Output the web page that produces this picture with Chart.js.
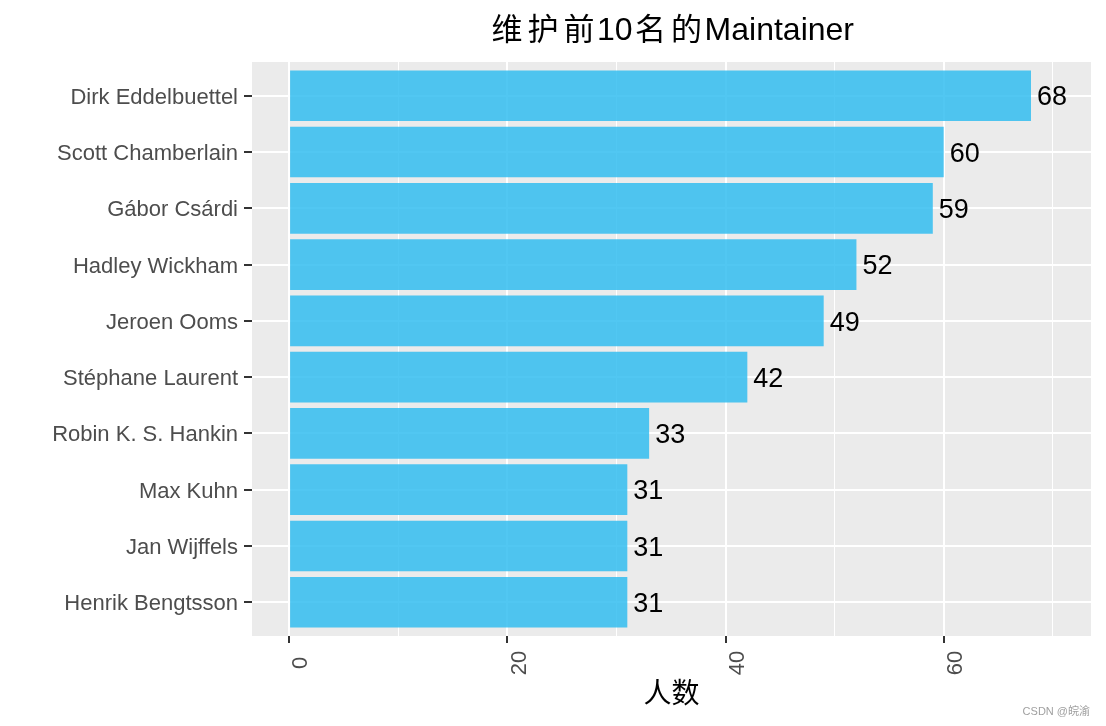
<!DOCTYPE html>
<html>
<head>
<meta charset="utf-8">
<script src="https://cdn.jsdelivr.net/npm/chart.js@4/dist/chart.umd.min.js"></script>
<style>
  html, body { margin: 0; padding: 0; background: #ffffff; }
  #wrap { width: 1106px; height: 726px; position: relative; }
</style>
</head>
<body>
<div id="wrap"><canvas id="c" width="1106" height="726"></canvas></div>
<script>
const names = ['Dirk Eddelbuettel','Scott Chamberlain','Gábor Csárdi','Hadley Wickham','Jeroen Ooms','Stéphane Laurent','Robin K. S. Hankin','Max Kuhn','Jan Wijffels','Henrik Bengtsson'];
const counts = [68, 60, 59, 52, 49, 42, 33, 31, 31, 31];
const xTickValues = [0, 10, 20, 30, 40, 50, 60, 70];
const xTickLabels = ['0', '', '20', '', '40', '', '60', ''];
const titleText = '维护前10名的Maintainer';
const xTitle = '人数';
const watermark = 'CSDN @皖渝';

const FONT = "'Liberation Sans', Arial, 'Noto Sans CJK SC', sans-serif";
const CJK_FONT = "'Noto Sans CJK SC', sans-serif";

const points = counts.map((v, i) => ({ x: v, y: i + 1 }));

const panelBg = {
  id: 'panelBg',
  beforeDraw(chart) {
    const { ctx, chartArea: a } = chart;
    ctx.save();
    ctx.fillStyle = '#ffffff';
    ctx.fillRect(0, 0, chart.width, chart.height);
    ctx.fillStyle = '#EBEBEB';
    ctx.fillRect(a.left, a.top, a.right - a.left, a.bottom - a.top);
    ctx.restore();
  }
};

function isCJK(ch) { return /[\u3000-\u9fff]/.test(ch); }

const extras = {
  id: 'extras',
  afterDraw(chart) {
    const { ctx, chartArea: a } = chart;
    const xs = chart.scales.x;
    ctx.save();
    // title: CJK glyphs at wide advance, Latin at 32px
    ctx.fillStyle = '#000000';
    ctx.textBaseline = 'alphabetic';
    ctx.textAlign = 'left';
    const latinFont = '32px ' + FONT;
    const cjkFont = '31px ' + CJK_FONT;
    const cjkAdvance = 36;
    let total = 0;
    const parts = [];
    for (const ch of titleText) {
      if (isCJK(ch)) { parts.push({ ch, cjk: true, w: cjkAdvance }); total += cjkAdvance; }
      else { ctx.font = latinFont; const w = ctx.measureText(ch).width; parts.push({ ch, cjk: false, w }); total += w; }
    }
    let tx = (a.left + a.right) / 2 - total / 2;
    parts.forEach(p => {
      if (p.cjk) {
        ctx.font = cjkFont;
        ctx.textAlign = 'center';
        ctx.fillText(p.ch, tx + p.w / 2, 40);
      } else {
        ctx.font = latinFont;
        ctx.textAlign = 'left';
        ctx.fillText(p.ch, tx, 40);
      }
      tx += p.w;
    });
    // value labels
    const meta = chart.getDatasetMeta(0);
    ctx.fillStyle = '#000000';
    ctx.font = '27px ' + FONT;
    ctx.textAlign = 'left';
    ctx.textBaseline = 'alphabetic';
    meta.data.forEach((el, i) => {
      ctx.fillText(String(counts[i]), el.x + 6, el.y + 9.7);
    });
    // rotated x tick labels
    ctx.fillStyle = '#4D4D4D';
    ctx.font = '22px ' + FONT;
    ctx.textAlign = 'center';
    ctx.textBaseline = 'alphabetic';
    xTickValues.forEach((v, i) => {
      const lab = xTickLabels[i];
      if (!lab) return;
      const px = xs.getPixelForValue(v);
      ctx.save();
      ctx.translate(px + 18.4, a.bottom + 27);
      ctx.rotate(-Math.PI / 2);
      ctx.fillText(lab, 0, 0);
      ctx.restore();
    });
    // watermark
    ctx.fillStyle = '#a0a0a0';
    ctx.font = '11px ' + FONT;
    ctx.textAlign = 'right';
    ctx.fillText(watermark, 1090, 715);
    ctx.restore();
  }
};

new Chart(document.getElementById('c'), {
  type: 'bar',
  data: {
    datasets: [{
      data: points,
      backgroundColor: 'rgba(51,189,240,0.85)',
      borderWidth: 0,
      barPercentage: 0.9,
      categoryPercentage: 1.0
    }]
  },
  options: {
    indexAxis: 'y',
    responsive: false,
    animation: false,
    devicePixelRatio: 1,
    layout: { padding: { left: 0, right: 15, top: 62, bottom: 0 } },
    plugins: {
      legend: { display: false },
      tooltip: { enabled: false },
      title: { display: false }
    },
    scales: {
      x: {
        type: 'linear',
        min: -3.4,
        max: 73.5,
        offset: false,
        afterBuildTicks(scale) { scale.ticks = xTickValues.map(v => ({ value: v })); },
        afterFit(scale) { scale.height = 90; },
        border: { display: false },
        grid: {
          offset: false,
          color: '#ffffff',
          lineWidth: (c) => (c.tick && c.tick.value % 20 === 0) ? 2 : 1,
          tickColor: (c) => (c.tick && c.tick.value % 20 === 0) ? '#333333' : 'rgba(0,0,0,0)',
          tickWidth: 2,
          tickLength: 7,
          drawTicks: true
        },
        ticks: { display: false },
        title: {
          display: true,
          text: xTitle,
          color: '#000000',
          font: { family: FONT, size: 28, weight: 'normal', lineHeight: 1.2 },
          padding: { top: 0, bottom: 14 }
        }
      },
      y: {
        type: 'linear',
        reverse: true,
        min: 0.4,
        max: 10.6,
        offset: false,
        afterBuildTicks(scale) { scale.ticks = names.map((n, i) => ({ value: i + 1 })); },
        afterFit(scale) { scale.width = 252; },
        border: { display: false },
        grid: {
          offset: false,
          color: '#ffffff',
          lineWidth: 2,
          tickColor: '#333333',
          tickWidth: 2,
          tickLength: 8,
          drawTicks: true
        },
        ticks: {
          color: '#4D4D4D',
          padding: 6,
          labelOffset: 2,
          font: { family: FONT, size: 22 },
          callback: (v) => names[Math.round(v) - 1] || ''
        }
      }
    }
  },
  plugins: [panelBg, extras]
});
</script>
</body>
</html>
